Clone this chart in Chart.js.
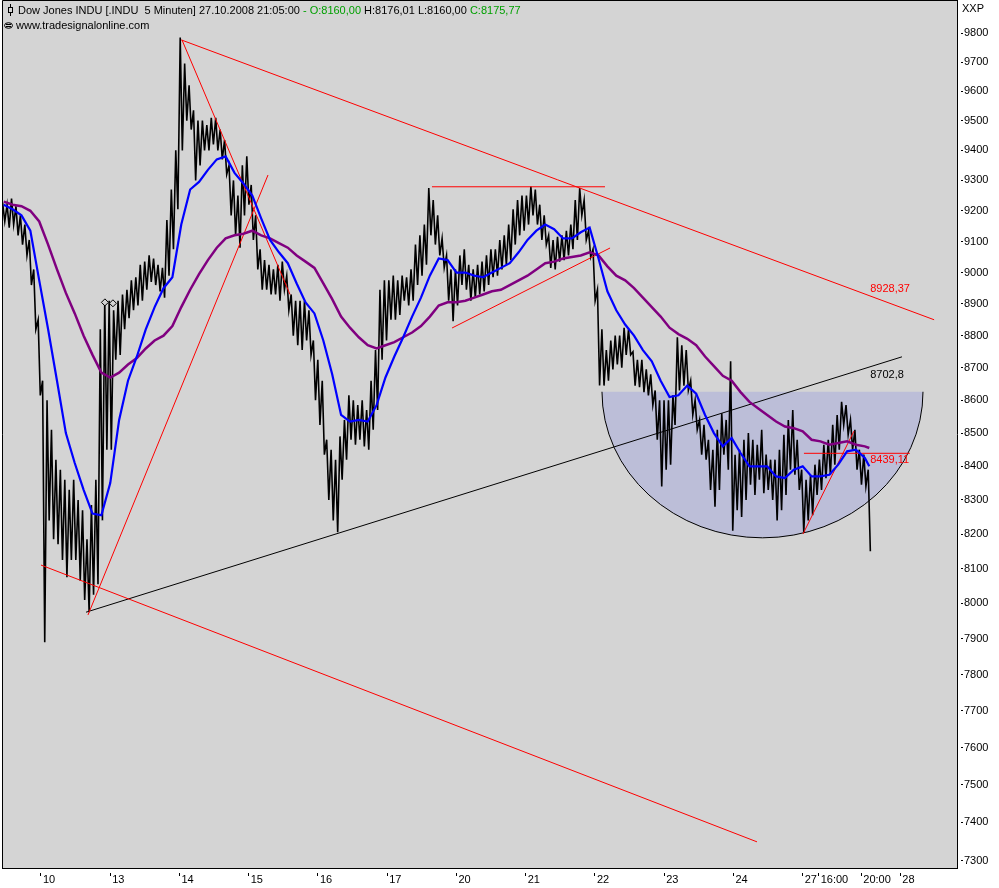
<!DOCTYPE html>
<html><head><meta charset="utf-8">
<script src="https://cdn.jsdelivr.net/npm/chart.js@4/dist/chart.umd.min.js"></script>
<style>html,body{margin:0;padding:0;background:#fff;}canvas{display:block}</style>
</head><body>
<canvas id="c" width="999" height="888"></canvas>
<script>
// ---- time axis (5-minute bar index, 0 = open of 10 Oct, 78 bars per session) ----
const BAR_START = -42, BAR_STEP = 5;
const X_TICK_IDX = [0, 78, 156, 234, 312, 390, 468, 546, 624, 702, 780, 858, 876, 924, 968];
const X_TICK_LABELS = ['10','13','14','15','16','17','20','21','22','23','24','27','16:00','20:00','28'];
const Y_TICKS = [7300,7400,7500,7600,7700,7800,7900,8000,8100,8200,8300,8400,8500,8600,8700,8800,8900,9000,9100,9200,9300,9400,9500,9600,9700,9800];

// ---- price bars (low / high per group of 5 bars) ----
const PRICE_LOW = [9165,9145,9155,9120,9090,9055,8960,8820,8615,7890,
8240,8185,8170,8125,8075,8125,8125,8065,8010,7975,
8025,8055,8240,8450,8450,8725,8740,8820,8855,8880,
8895,8910,8945,8970,8960,8940,8920,8990,9075,9205,
9400,9500,9470,9300,9350,9400,9400,9420,9400,9370,
9320,9185,9120,9080,9185,9220,9105,9010,8945,8945,
8930,8930,8910,8945,8880,8800,8770,8755,8785,8740,
8600,8525,8435,8300,8240,8205,8360,8420,8480,8465,
8480,8460,8450,8510,8570,8725,8785,8850,8850,8865,
8910,8895,8910,8960,8990,9025,9120,9090,9055,9015,
8910,8845,8895,8960,8945,8910,8920,8930,8940,8960,
8985,8990,9010,9025,9040,9090,9120,9135,9155,9185,
9155,9105,9090,9015,9010,9035,9040,9055,9075,9105,
9185,9105,9050,8910,8645,8645,8660,8695,8710,8700,
8740,8740,8645,8640,8625,8615,8585,8480,8340,8390,
8405,8525,8630,8645,8630,8555,8510,8435,8420,8330,
8280,8330,8435,8390,8210,8270,8250,8300,8345,8315,
8360,8320,8330,8300,8240,8270,8315,8390,8375,8330,
8205,8240,8255,8315,8330,8365,8375,8405,8450,8525,
8495,8450,8390,8345,8340,8150];
const PRICE_HIGH = [9225,9220,9240,9215,9185,9155,9105,9010,8850,8660,
8600,8510,8420,8390,8360,8330,8360,8300,8270,8185,
8285,8360,8820,8910,8910,8880,8910,8930,8945,8975,
8985,9025,9035,9055,9045,9025,9015,9170,9270,9400,
9785,9695,9620,9535,9500,9500,9485,9510,9510,9470,
9435,9350,9300,9250,9350,9380,9285,9185,9075,9040,
9025,9010,9025,9035,8990,8930,8910,8910,8910,8880,
8785,8725,8660,8480,8450,8420,8490,8540,8615,8600,
8585,8600,8570,8660,8755,8945,8975,8975,8990,8975,
8990,8985,9010,9090,9120,9155,9275,9235,9185,9110,
9055,9010,9010,9055,9075,9025,9010,9025,9035,9055,
9075,9075,9105,9120,9155,9205,9235,9250,9250,9280,
9270,9220,9185,9120,9105,9115,9120,9135,9155,9235,
9275,9235,9135,9075,8945,8820,8755,8785,8800,8800,
8825,8820,8750,8725,8725,8695,8680,8630,8600,8600,
8600,8615,8795,8770,8755,8660,8600,8540,8525,8480,
8450,8510,8560,8540,8720,8435,8450,8480,8500,8480,
8465,8510,8435,8420,8420,8450,8495,8540,8570,8480,
8390,8360,8375,8405,8420,8465,8480,8525,8555,8595,
8585,8540,8510,8450,8435,8390];

// ---- moving averages (one value every 10 bars, plus last bar) ----
const MA_START = -42, MA_STEP = 10, MA_LAST_IDX = 933;
const MA_FAST = [9220,9205,9185,9135,8975,8820,8660,8500,8410,8330,
8260,8255,8350,8540,8660,8735,8820,8890,8950,8985,
9155,9270,9295,9335,9370,9380,9325,9290,9250,9175,
9105,9065,9030,8965,8905,8870,8785,8680,8555,8535,
8540,8535,8585,8670,8735,8795,8860,8920,8990,9045,
9040,9000,9000,8990,8985,9000,9015,9030,9065,9105,
9135,9155,9140,9110,9110,9130,9145,9045,8940,8880,
8835,8800,8755,8720,8660,8610,8615,8645,8620,8555,
8500,8460,8485,8440,8400,8400,8400,8370,8365,8390,
8400,8370,8370,8375,8405,8445,8450,8425,8400];
const MA_SLOW = [9230,9220,9215,9200,9165,9090,9010,8935,8870,8800,
8740,8685,8670,8685,8710,8730,8760,8785,8800,8830,
8890,8945,8995,9040,9080,9110,9120,9125,9135,9120,
9110,9095,9080,9055,9035,9015,8965,8915,8860,8825,
8795,8770,8760,8770,8780,8795,8810,8830,8860,8895,
8905,8905,8910,8920,8930,8940,8945,8960,8975,8990,
9010,9030,9035,9045,9050,9055,9065,9055,9020,8990,
8975,8950,8920,8890,8860,8825,8805,8790,8770,8735,
8705,8675,8660,8625,8595,8575,8555,8535,8520,8515,
8505,8480,8475,8465,8470,8475,8465,8460,8455];

// ---- drawn trend lines: [bar index, price] end points ----
const TL_TOP = [[158, 9777], [1006, 8850]];
const TL_BOTTOM = [[0, 8110], [806.5, 7349]];
const TL_FALL = [[158.8, 9777], [280.5, 8930]];
const TL_RISE = [[52.9, 7967], [255.7, 9318]];
const TL_SUPPORT = [[50.7, 7975], [969.8, 8734]];
const TL_HIGHS = [[440.4, 9279], [635.3, 9279]];
const TL_MIDRISE = [[463, 8824], [641, 9079]];
const TL_SHORT = [[858.3, 8200], [915.7, 8506]];
const TL_LEVEL = [[859.4, 8439.11], [978.6, 8439.11]];
const MARKERS = [[72, 8905], [81, 8902]];
const LEVEL_IDX = 934;
const LEVEL_VALUES = [8928.37, 8702.8, 8439.11];
const LEVEL_TEXT = ['8928,37', '8702,8', '8439,11'];
// rounding bottom (half ellipse)
const BOWL_CENTER_IDX = 812.7, BOWL_HALF_IDX = 180.8, BOWL_TOP = 8626, BOWL_BOTTOM = 8189;

const FONT = "'Liberation Sans', Arial, sans-serif";
Chart.defaults.font.family = FONT;
Chart.defaults.font.size = 11;

// each group is drawn as a down-stroke from its high to its low (thin bar texture)
const priceData = [];
PRICE_LOW.forEach((lo, i) => {
  const c = BAR_START + BAR_STEP * i;
  priceData.push({ x: c - 1.2, y: PRICE_HIGH[i] });
  priceData.push({ x: c + 1.2, y: lo });
});
const maX = i => (i < MA_FAST.length - 1 ? MA_START + MA_STEP * i : MA_LAST_IDX);
const fastData = MA_FAST.map((v, i) => ({ x: maX(i), y: v }));
const slowData = MA_SLOW.map((v, i) => ({ x: maX(i), y: v }));
const seg = p => p.map(([x, y]) => ({ x, y }));
const lineDs = (pts, color) => ({ type: 'line', data: seg(pts), borderColor: color, borderWidth: 1, pointRadius: 0, tension: 0, order: 5 });

const decor = {
  id: 'decor',
  beforeDraw(chart) {
    const { ctx, chartArea: a } = chart;
    ctx.save();
    ctx.fillStyle = '#ffffff';
    ctx.fillRect(0, 0, chart.width, chart.height);
    ctx.fillStyle = '#d4d4d4';
    ctx.fillRect(a.left, a.top, a.right - a.left, a.bottom - a.top);
    ctx.restore();
  },
  beforeDatasetsDraw(chart) {
    const { ctx, chartArea: a } = chart;
    const xs = chart.scales.x, ys = chart.scales.y;
    const cx = xs.getPixelForValue(BOWL_CENTER_IDX);
    const rx = xs.getPixelForValue(BOWL_CENTER_IDX + BOWL_HALF_IDX) - cx;
    const cy = ys.getPixelForValue(BOWL_TOP);
    const ry = ys.getPixelForValue(BOWL_BOTTOM) - cy;
    ctx.save();
    ctx.beginPath(); ctx.rect(a.left, a.top, a.right - a.left, a.bottom - a.top); ctx.clip();
    ctx.beginPath(); ctx.ellipse(cx, cy, rx, ry, 0, 0, Math.PI); ctx.closePath();
    ctx.fillStyle = '#bcbed8'; ctx.fill();
    ctx.beginPath(); ctx.ellipse(cx, cy, rx, ry, 0, 0, Math.PI);
    ctx.strokeStyle = '#000'; ctx.lineWidth = 1; ctx.stroke();
    ctx.restore();
  },
  afterDraw(chart) {
    const { ctx, chartArea: a } = chart;
    const xs = chart.scales.x, ys = chart.scales.y;
    ctx.save();
    // frame (left + top)
    ctx.strokeStyle = '#000'; ctx.lineWidth = 1;
    ctx.beginPath();
    ctx.moveTo(a.left + 0.5, a.bottom); ctx.lineTo(a.left + 0.5, a.top + 0.5); ctx.lineTo(a.right, a.top + 0.5);
    ctx.stroke();
    // level labels
    ctx.font = '11px ' + FONT; ctx.textBaseline = 'middle'; ctx.textAlign = 'left';
    const lx = xs.getPixelForValue(LEVEL_IDX);
    const offs = [-6, 8, 7];
    const cols = ['#ff0000', '#000000', '#ff0000'];
    LEVEL_VALUES.forEach((v, i) => {
      ctx.fillStyle = cols[i];
      ctx.fillText(LEVEL_TEXT[i], lx, ys.getPixelForValue(v) + offs[i]);
    });
    // header
    const parts = [['Dow Jones INDU [.INDU  5 Minuten] 27.10.2008 21:05:00 ', '#000'], ['- O:8160,00', '#00a000'], [' H:8176,01 L:8160,00 ', '#000'], ['C:8175,77', '#00a000']];
    let x = 18;
    parts.forEach(([t, c]) => { ctx.fillStyle = c; ctx.fillText(t, x, 10.5); x += ctx.measureText(t).width; });
    ctx.fillStyle = '#000';
    ctx.fillText('www.tradesignalonline.com', 16, 26);
    // small icons
    ctx.strokeStyle = '#000';
    ctx.beginPath(); ctx.moveTo(10.5, 4); ctx.lineTo(10.5, 16); ctx.stroke();
    ctx.fillStyle = '#d4d4d4'; ctx.fillRect(8.5, 7.5, 4, 5); ctx.strokeRect(8.5, 7.5, 4, 5);
    ctx.beginPath(); ctx.ellipse(8.5, 25.5, 4, 2.8, 0, 0, Math.PI * 2); ctx.stroke();
    ctx.beginPath(); ctx.moveTo(6, 24.5); ctx.lineTo(11, 24.5); ctx.moveTo(6, 26.5); ctx.lineTo(11, 26.5); ctx.stroke();
    // axis caption
    ctx.fillStyle = '#000';
    ctx.fillText('XXP', 962, 9);
    ctx.restore();
  }
};

new Chart(document.getElementById('c'), {
  type: 'line',
  data: {
    datasets: [
      { type: 'line', data: priceData, borderColor: '#000', borderWidth: 1.6, pointRadius: 0, tension: 0, order: 10 },
      lineDs(TL_TOP, '#ff0000'),
      lineDs(TL_BOTTOM, '#ff0000'),
      lineDs(TL_FALL, '#ff0000'),
      lineDs(TL_RISE, '#ff0000'),
      lineDs(TL_SUPPORT, '#000000'),
      lineDs(TL_HIGHS, '#ff0000'),
      lineDs(TL_MIDRISE, '#ff0000'),
      lineDs(TL_SHORT, '#ff0000'),
      lineDs(TL_LEVEL, '#ff0000'),
      { type: 'line', data: slowData, borderColor: '#800080', borderWidth: 2.5, pointRadius: 0, tension: 0, order: 3 },
      { type: 'line', data: fastData, borderColor: '#0000ff', borderWidth: 2.2, pointRadius: 0, tension: 0, order: 2 },
      { type: 'line', data: seg(MARKERS), showLine: false, pointStyle: 'rectRot', pointRadius: 3.5, pointBackgroundColor: '#d4d4d4', pointBorderColor: '#000', pointBorderWidth: 1, order: 1 }
    ]
  },
  options: {
    responsive: false, devicePixelRatio: 1, animation: false,
    layout: { autoPadding: false, padding: { left: 2, top: 0, right: 0, bottom: 0 } },
    plugins: { legend: { display: false }, tooltip: { enabled: false }, title: { display: false } },
    scales: {
      x: {
        type: 'linear', min: -43.93, max: 1031.8, offset: false,
        afterBuildTicks: s => { s.ticks = X_TICK_IDX.map(v => ({ value: v })); },
        afterFit: s => { s.height = 20; s.paddingLeft = 0; s.paddingRight = 0; },
        ticks: { autoSkip: false, maxRotation: 0, minRotation: 0, align: 'start', labelOffset: 2, padding: -3, color: '#000', font: { size: 11 }, callback: (v, i) => X_TICK_LABELS[i] },
        grid: { offset: false, drawOnChartArea: false, drawTicks: true, tickLength: 8, tickColor: '#000', tickBorderDash: [0, 4, 4, 100] },
        border: { display: true, color: '#000', width: 1 }
      },
      y: {
        type: 'logarithmic', position: 'right', min: 7280.9, max: 9916.9,
        afterBuildTicks: s => { s.ticks = Y_TICKS.map(v => ({ value: v })); },
        afterFit: s => { s.width = 42; s.paddingTop = 0; s.paddingBottom = 0; },
        ticks: { autoSkip: false, padding: 1, color: '#000', font: { size: 11 }, callback: v => String(v) },
        grid: { drawOnChartArea: false, drawTicks: true, tickLength: 6, tickColor: '#000', tickBorderDash: [0, 3, 3, 100] },
        border: { display: true, color: '#000', width: 1 }
      }
    }
  },
  plugins: [decor]
});
</script>
</body></html>
